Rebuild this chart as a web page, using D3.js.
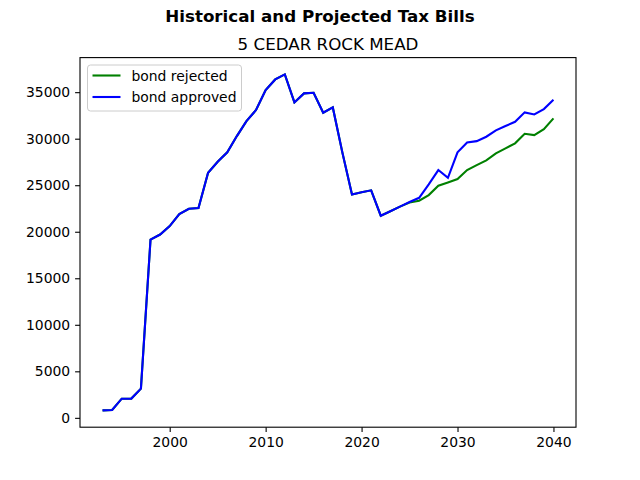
<html>
<head>
<script src="https://d3js.org/d3.v7.min.js"></script>
<style>
  body { margin: 0; background: #fff; }
  text { font-family: "DejaVu Sans", sans-serif; }
</style>
</head>
<body>
<div id="chart"></div>
<script>
// historical years 1993-2022, then projections to 2040
var years = d3.range(1993, 2041);

var approved = [
  800, 850, 2060, 2070, 3140, 19150, 19700, 20610, 21900, 22470,
  22540, 26340, 27520, 28530, 30280, 31890, 33080, 35230, 36370, 36910,
  33900, 34870, 34940, 32790, 33360, 28500, 24000, 24250, 24450, 21720,
  22210, 22700, 23200, 23650, 25090, 26630, 25800, 28530, 29600, 29740,
  30210, 30890, 31360, 31820, 32830, 32610, 33180, 34180
];

var rejected = [
  800, 850, 2060, 2070, 3140, 19150, 19700, 20610, 21900, 22470,
  22540, 26340, 27520, 28530, 30280, 31890, 33080, 35230, 36370, 36910,
  33900, 34870, 34940, 32790, 33360, 28500, 24000, 24250, 24450, 21720,
  22210, 22700, 23150, 23330, 23940, 24940, 25300, 25660, 26630, 27160,
  27670, 28420, 28960, 29500, 30530, 30390, 31030, 32180
];

var xTicks = [2000, 2010, 2020, 2030, 2040];
var yTicks = d3.range(0, 35001, 5000);

var W = 640, H = 480;
var plotL = 80, plotR = 576, plotT = 57.6, plotB = 427.2;

var svg = d3.select('#chart')
  .append('svg')
    .attr('width', W)
    .attr('height', H);

var x = d3.scaleLinear()
  .domain([1993 - 47 * 0.05, 2040 + 47 * 0.05])
  .range([plotL, plotR]);

var yMin = d3.min(approved.concat(rejected)), yMax = d3.max(approved.concat(rejected));
var pad = (yMax - yMin) * 0.05;
var y = d3.scaleLinear()
  .domain([yMin - pad, yMax + pad])
  .range([plotB, plotT]);

// axes
var xAxis = svg.append('g')
  .attr('transform', 'translate(0,' + plotB + ')')
  .call(d3.axisBottom(x).tickValues(xTicks).tickFormat(d3.format('d')).tickSize(4.9).tickPadding(4.9));
var yAxis = svg.append('g')
  .attr('transform', 'translate(' + plotL + ',0)')
  .call(d3.axisLeft(y).tickValues(yTicks).tickFormat(d3.format('d')).tickSize(4.9).tickPadding(4.9));

[xAxis, yAxis].forEach(function (g) {
  g.select('.domain').remove();
  g.selectAll('line').attr('stroke', '#000').attr('stroke-width', 1.1);
  g.selectAll('text').attr('font-size', 13.9).attr('fill', '#000')
    .style('font-family', '"DejaVu Sans", sans-serif');
});

// frame
svg.append('rect')
  .attr('x', plotL).attr('y', plotT)
  .attr('width', plotR - plotL).attr('height', plotB - plotT)
  .attr('fill', 'none').attr('stroke', '#000').attr('stroke-width', 1.1);

var line = d3.line()
  .x(function (d, i) { return x(years[i]); })
  .y(function (d) { return y(d); });

svg.append('path').datum(rejected)
  .attr('d', line).attr('fill', 'none')
  .attr('stroke', 'green').attr('stroke-width', 2.1);

svg.append('path').datum(approved)
  .attr('d', line).attr('fill', 'none')
  .attr('stroke', 'blue').attr('stroke-width', 2.1);

// titles
svg.append('text')
  .attr('x', W / 2).attr('y', 22)
  .attr('text-anchor', 'middle')
  .attr('font-size', 16.7).attr('font-weight', 'bold')
  .text('Historical and Projected Tax Bills');

svg.append('text')
  .attr('x', (plotL + plotR) / 2).attr('y', 49.5)
  .attr('text-anchor', 'middle')
  .attr('font-size', 16.7)
  .text('5 CEDAR ROCK MEAD');

// legend
var legend = svg.append('g').attr('transform', 'translate(87.5,65)');
legend.append('rect')
  .attr('width', 154).attr('height', 46).attr('rx', 3)
  .attr('fill', '#fff').attr('fill-opacity', 0.8)
  .attr('stroke', '#ccc').attr('stroke-width', 1);

var items = [['bond rejected', 'green'], ['bond approved', 'blue']];
items.forEach(function (it, i) {
  var cy = 10.5 + i * 21.5;
  legend.append('line')
    .attr('x1', 5).attr('x2', 33).attr('y1', cy).attr('y2', cy)
    .attr('stroke', it[1]).attr('stroke-width', 2.1);
  legend.append('text')
    .attr('x', 44).attr('y', cy + 5)
    .attr('font-size', 13.9)
    .text(it[0]);
});
</script>
</body>
</html>
